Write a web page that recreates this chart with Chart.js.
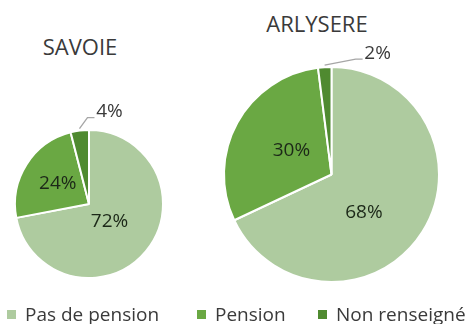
<!DOCTYPE html>
<html lang="fr">
<head>
<meta charset="UTF-8">
<title>Pension - Savoie / Arlysère</title>
<script src="https://cdn.jsdelivr.net/npm/chart.js"></script>
<style>
    body {
        margin: 0;
        background: #ffffff;
        font-family: "Open Sans", sans-serif;
    }
    .wrap {
        position: relative;
        width: 468px;
        height: 324px;
        overflow: hidden;
    }
    .wrap canvas {
        position: absolute;
        left: 0;
        top: 0;
    }
    .title {
        position: absolute;
        font-size: 22px;
        color: #3a3a3a;
        transform: translateX(-50%);
        white-space: nowrap;
        line-height: 1;
    }
    .legend-item {
        position: absolute;
        top: 305px;
        font-size: 19px;
        color: #3a3a3a;
        white-space: nowrap;
        line-height: 1;
    }
    .legend-item span {
        display: inline-block;
        width: 9px;
        height: 9px;
        margin-right: 9px;
        vertical-align: 2px;
    }
</style>
</head>
<body>
<div class="wrap" id="wrap">
    <div class="title" style="left:80px; top:35px;">SAVOIE</div>
    <div class="title" style="left:317px; top:12px;">ARLYSERE</div>
    <canvas id="savoie" width="468" height="324"></canvas>
    <canvas id="arlysere" width="468" height="324"></canvas>
</div>
<script>
    // données (en %)
    const categories = ['Pas de pension', 'Pension', 'Non renseigné'];
    const savoieValues = [72, 24, 4];
    const arlysereValues = [68, 30, 2];
    const colors = ['#aecb9f', '#6aa843', '#4f8a30'];

    // étiquettes de pourcentage : dans la part, ou en dehors avec un trait
    const pctLabels = {
        id: 'pctLabels',
        afterDatasetsDraw(chart, args, opts) {
            const ctx = chart.ctx;
            const meta = chart.getDatasetMeta(0);
            const values = chart.data.datasets[0].data;
            ctx.save();
            ctx.font = '19px "Open Sans", sans-serif';
            ctx.textBaseline = 'middle';
            meta.data.forEach((arc, i) => {
                const p = arc.getProps(['x', 'y', 'startAngle', 'endAngle', 'outerRadius'], true);
                const mid = (p.startAngle + p.endAngle) / 2;
                const dx = Math.cos(mid), dy = Math.sin(mid);
                const text = values[i] + '%';
                if (opts.nudge[i]) {
                    const r = p.outerRadius / 2;
                    ctx.fillStyle = '#1c2818';
                    ctx.textAlign = 'center';
                    ctx.fillText(text, p.x + dx * r + opts.nudge[i][0], p.y + dy * r + opts.nudge[i][1]);
                } else {
                    const ex = p.x + dx * (p.outerRadius + 2);
                    const ey = p.y + dy * (p.outerRadius + 2);
                    const tx = ex + opts.callout[0];
                    const ty = ey + opts.callout[1];
                    ctx.strokeStyle = '#a6a6a6';
                    ctx.lineWidth = 1.3;
                    ctx.beginPath();
                    ctx.moveTo(ex, ey);
                    ctx.lineTo(tx - 22, ty + 6);
                    ctx.lineTo(tx - 15, ty + 6);
                    ctx.stroke();
                    ctx.fillStyle = '#3a3a3a';
                    ctx.textAlign = 'center';
                    ctx.fillText(text, tx, ty);
                }
            });
            ctx.restore();
        }
    };

    function makePie(id, values, padding, labelOpts) {
        return new Chart(document.getElementById(id), {
            type: 'pie',
            data: {
                labels: categories,
                datasets: [{
                    data: values,
                    backgroundColor: colors,
                    borderColor: '#ffffff',
                    borderWidth: 2,
                    hoverOffset: 0
                }]
            },
            options: {
                responsive: false,
                animation: false,
                layout: { padding: padding },
                plugins: {
                    legend: { display: false },
                    tooltip: { enabled: false },
                    pctLabels: labelOpts
                }
            },
            plugins: [pctLabels]
        });
    }

    makePie('savoie', savoieValues,
        { left: 14, top: 129, right: 304, bottom: 45 },
        { nudge: [[-8, -6], [0, -1], null], callout: [30, -17] });

    makePie('arlysere', arlysereValues,
        { left: 223, top: 66, right: 28, bottom: 41 },
        { nudge: [[-13, 9], [7, 2], null], callout: [53, -12] });

    // légende commune
    const legendX = [7, 197, 318];
    const wrap = document.getElementById('wrap');
    categories.forEach((name, i) => {
        const item = document.createElement('div');
        item.className = 'legend-item';
        item.style.left = legendX[i] + 'px';
        item.innerHTML = '<span style="background:' + colors[i] + '"></span>' + name;
        wrap.appendChild(item);
    });
</script>
</body>
</html>
